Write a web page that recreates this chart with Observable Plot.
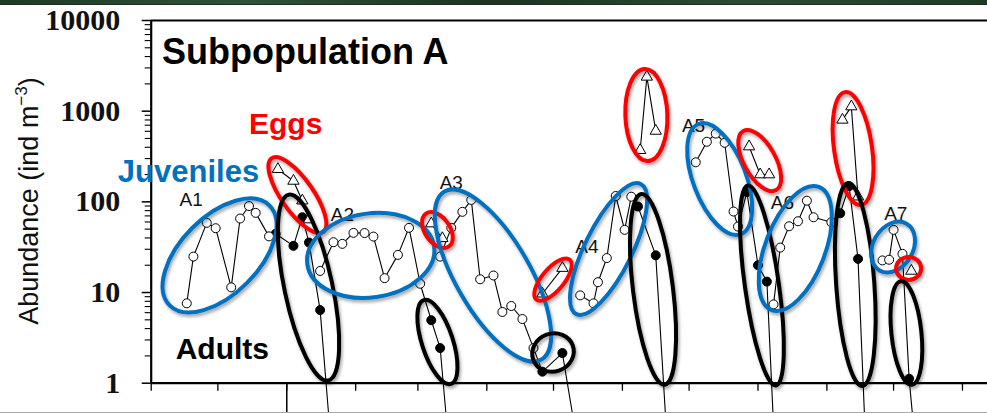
<!DOCTYPE html>
<html>
<head>
<meta charset="utf-8">
<script src="https://cdn.jsdelivr.net/npm/d3@7"></script>
<script src="https://cdn.jsdelivr.net/npm/@observablehq/plot@0.6"></script>
<style>
  html, body { margin: 0; padding: 0; background: #fff; }
  #wrap { position: relative; width: 987px; height: 413px; overflow: hidden; }
  #chart { position: absolute; left: 0; top: 0; width: 987px; height: 412px; overflow: hidden; }
  #band { position: absolute; left: 0; top: 0; width: 987px; height: 4px; z-index: 2;
          background: linear-gradient(90deg, #1e3a25, #2e5236 25%, #1b3321 50%, #2b4c31 75%, #1f3b26);
          border-bottom: 1px solid #2a2a2a; }
  #foot { position: absolute; left: 0; top: 412px; width: 987px; height: 1px; background: #a9a9a9; }
  #chart g[aria-label="y-axis tick label"] { font: bold 30px "Liberation Serif", "Times New Roman", serif; }
</style>
</head>
<body>
<div id="wrap"><div id="chart"></div><div id="band"></div><div id="foot"></div></div>
<script>
// Juveniles (open circles): sampling date, abundance (ind m^-3), cohort
const juvDate = [
  "2010-11-17","2010-11-20","2010-11-26","2010-11-30","2010-12-07","2010-12-11","2010-12-15","2010-12-18","2010-12-24",
  "2011-01-16","2011-01-22","2011-01-26","2011-01-31","2011-02-05","2011-02-09","2011-02-14","2011-02-20","2011-02-25","2011-03-02",
  "2011-03-11","2011-03-16","2011-03-21","2011-03-25","2011-03-29","2011-04-04","2011-04-08","2011-04-12","2011-04-17","2011-04-22",
  "2011-05-13","2011-05-19","2011-05-21","2011-05-25","2011-05-29","2011-06-02","2011-06-05",
  "2011-07-04","2011-07-09","2011-07-13","2011-07-17","2011-07-21","2011-07-23",
  "2011-08-08","2011-08-11","2011-08-15","2011-08-19","2011-08-23","2011-08-26","2011-09-03",
  "2011-09-26","2011-09-29","2011-10-01","2011-10-05"
];
const juvValue = [
  7.6, 24.9, 58.7, 51.2, 11.4, 65.5, 89.9, 75.6, 41.6,
  17.3, 35.9, 34.4, 45.5, 45.3, 41.4, 14.4, 26.0, 51.7, 12.5,
  24.9, 51.7, 77.6, 105, 14.0, 15.4, 6.1, 7.1, 5.1, 2.44,
  9.3, 7.6, 13.0, 24.0, 116, 49.1, 114,
  273, 460, 566, 448, 78.2, 53.4,
  7.4, 31.3, 53.8, 61.1, 103, 67.6, 59.6,
  22.6, 23.0, 49.1, 26.7
];
const juvCohort = [
  "A1","A1","A1","A1","A1","A1","A1","A1","A1",
  "A2","A2","A2","A2","A2","A2","A2","A2","A2","A2",
  "A3","A3","A3","A3","A3","A3","A3","A3","A3","A3",
  "A4","A4","A4","A4","A4","A4","A4",
  "A5","A5","A5","A5","A5","A5",
  "A6","A6","A6","A6","A6","A6","A6",
  "A7","A7","A7","A7"
];

// Adults (filled circles); 0.1 marks a sample below detection, plotted off the log axis
const BELOW = 0.1;
const adultDate = [
  "2010-12-27","2011-01-04","2011-01-08","2011-01-11","2011-01-16","2011-01-22",
  "2011-03-07","2011-03-11","2011-03-16",
  "2011-04-26","2011-05-05","2011-05-14",
  "2011-06-08","2011-06-16","2011-06-22",
  "2011-07-27","2011-08-01","2011-08-05","2011-08-09",
  "2011-09-07","2011-09-11","2011-09-15","2011-09-19",
  "2011-10-08","2011-10-12"
];
const adultValue = [
  44.4, 32.7, 67.6, 35.6, 6.4, BELOW,
  4.95, 2.44, BELOW,
  1.34, 2.15, BELOW,
  88.8, 25.7, BELOW,
  128, 20.0, 13.2, BELOW,
  74.9, 149, 23.5, BELOW,
  1.12, BELOW
];
const adultCohort = [
  "A1","A1","A1","A1","A1","A1",
  "A2","A2","A2",
  "A3","A3","A3",
  "A4","A4","A4",
  "A5","A5","A5","A5",
  "A6","A6","A6","A6",
  "A7","A7"
];

// Eggs (open triangles)
const eggDate = [
  "2010-12-28","2011-01-04","2011-01-08","2011-01-11",
  "2011-03-07","2011-03-12",
  "2011-04-26","2011-05-05",
  "2011-06-09","2011-06-12","2011-06-16",
  "2011-07-28","2011-08-02","2011-08-06",
  "2011-09-08","2011-09-12","2011-09-15",
  "2011-10-09"
];
const eggValue = [229, 170, 103, 63.8, 57.6, 39.6, 9.7, 18.6, 371, 2390, 605, 407, 200, 200, 802, 1124, 114, 17.3];
const eggCohort = ["A2","A2","A2","A2","A3","A3","A4","A4","A5","A5","A5","A6","A6","A6","A7","A7","A7","A8"];

// Cohort names written next to each juvenile group
const cohortText = ["A1","A2","A3","A4","A5","A6","A7"];
const cohortDate = ["2010-11-19","2011-01-26","2011-03-16","2011-05-16","2011-07-03","2011-08-12","2011-10-02"];
const cohortValue = [106, 71.5, 161, 32.2, 685, 97, 74.3];

// Stage names
const stageText = ["Eggs", "Juveniles", "Adults"];
const stageDate = ["2010-12-15", "2010-10-17", "2010-11-12"];
const stageValue = [717, 211, 2.37];
const stageColor = ["#ff0000", "#0070c0", "#000000"];
const stageSize = [30, 31, 30];

// Hand-drawn rings around each cohort's stage: stage, centre date, centre abundance
const ringStage = ["juv","egg","adult","juv","egg","juv","adult","egg","adult","juv","egg","adult","juv","egg","adult","juv","egg","adult","juv","egg","adult"];
const ringDate = [
  "2010-12-02","2011-01-06","2011-01-11","2011-02-08","2011-03-10","2011-04-04","2011-03-10",
  "2011-05-01","2011-05-01","2011-05-26","2011-06-12","2011-06-15","2011-07-15","2011-08-02",
  "2011-08-03","2011-08-18","2011-09-13","2011-09-14","2011-10-01","2011-10-08","2011-10-07"
];
const ringValue = [25.3, 117, 11.2, 25.3, 48.3, 15.2, 2.81, 13.7, 2.15, 29.8, 894, 10.7, 176, 282, 11.8, 30.2, 382, 12.1, 31.3, 18.2, 3.53];
// ring shape: half-axes (px) and tilt (deg)
const ringShape = [
  [70.6, 38.8, -45], [45, 16, 55], [95, 24, 78], [64, 42, -8], [20, 12.5, 55], [97, 37, 60], [44, 15.5, 72],
  [26, 11, -50], [21, 19, -20], [72.6, 23.6, -63.7], [46, 21, 88], [96, 20, 83], [59, 26.4, 69], [33.8, 15.8, 61],
  [101, 17, 82], [65.9, 29.9, -69], [57, 19, 82], [101.7, 19.1, 86], [27, 20, -60], [12.5, 11.5, 0], [52, 15, 84]
];
const ringColor = {juv: "#0070c0", egg: "#ff0000", adult: "#000000"};

const parse = d3.utcParse("%Y-%m-%d");
const juveniles = juvDate.map((d, i) => ({date: parse(d), value: juvValue[i], cohort: juvCohort[i]}));
const adults = adultDate.map((d, i) => ({date: parse(d), value: adultValue[i], cohort: adultCohort[i]}));
const eggs = eggDate.map((d, i) => ({date: parse(d), value: eggValue[i], cohort: eggCohort[i]}));
const cohortLabels = cohortText.map((t, i) => ({text: t, date: parse(cohortDate[i]), value: cohortValue[i]}));
const stageLabels = stageText.map((t, i) => ({text: t, date: parse(stageDate[i]), value: stageValue[i], color: stageColor[i], size: stageSize[i]}));
const rings = ringStage.map((s, i) => ({stage: s, date: parse(ringDate[i]), value: ringValue[i], shape: ringShape[i]}));

// each cohort's track runs through its juveniles and on into its adults
const tracks = juveniles.concat(adults);

const xStart = parse("2010-11-01");
const xEnd = new Date("2011-11-12T06:15Z");
const monthTicks = d3.utcMonth.range(xStart, parse("2011-11-02"));
const yearTick = [parse("2011-01-01")];
const majorY = [1, 10, 100, 1000, 10000];
const minorY = [1, 10, 100, 1000].flatMap(k => [2, 3, 4, 5, 6, 7, 8, 9].map(m => m * k));

// rings and the y-axis title, drawn with the plot's own scales
function annotations(index, scales, values, dimensions) {
  const g = d3.create("svg:g");
  const defs = g.append("defs");
  defs.append("filter").attr("id", "ringShade")
      .attr("x", "-10%").attr("y", "-10%").attr("width", "120%").attr("height", "120%")
    .append("feDropShadow")
      .attr("dx", 1.5).attr("dy", 2.5).attr("stdDeviation", 1.6)
      .attr("flood-color", "#000").attr("flood-opacity", 0.35);

  const title = g.append("text")
      .attr("transform", `translate(37.7,201) rotate(-90)`)
      .attr("text-anchor", "middle")
      .attr("font-family", "Liberation Sans, Arial, sans-serif")
      .attr("font-size", 27)
      .attr("fill", "#111");
  title.append("tspan").text("Abundance (ind m");
  title.append("tspan").attr("font-size", 17).attr("dy", -11).text("\u22123");
  title.append("tspan").attr("dy", 11).text(")");

  const ringLayer = g.append("g").attr("filter", "url(#ringShade)");
  for (const r of rings) {
    const [a, b, angle] = r.shape;
    ringLayer.append("ellipse")
      .attr("rx", a).attr("ry", b)
      .attr("transform", `translate(${scales.x(r.date)},${scales.y(r.value)}) rotate(${angle})`)
      .attr("fill", "none")
      .attr("stroke", ringColor[r.stage])
      .attr("stroke-width", 4);
  }
  return g.node();
}

const chart = Plot.plot({
  width: 987,
  height: 412,
  marginLeft: 150.7,
  marginRight: 0,
  marginTop: 20,
  marginBottom: 29.3,
  style: {background: "white", overflow: "hidden", fontFamily: "Liberation Sans, Arial, sans-serif"},
  x: {type: "utc", domain: [xStart, xEnd]},
  y: {type: "log", domain: [1, 10000]},
  marks: [
    Plot.axisX({ticks: monthTicks, tickSize: 8, tickFormat: () => "", label: null, strokeWidth: 1.3}),
    Plot.axisX({ticks: yearTick, tickSize: 30, tickFormat: () => "", label: null, strokeWidth: 1.5}),
    Plot.axisY({ticks: minorY, tickSize: 6, tickFormat: () => "", label: null, strokeWidth: 1.1}),
    Plot.axisY({ticks: majorY, tickSize: 9, tickPadding: 22, tickFormat: d => String(d), label: null,
      fontSize: 30, fontWeight: "bold", fontFamily: "Liberation Serif", fill: "#111", strokeWidth: 1.5}),
    Plot.ruleY([1], {strokeWidth: 2.2}),
    Plot.ruleY([10000], {strokeWidth: 2.2}),
    Plot.ruleX([xStart], {strokeWidth: 2.2}),
    Plot.line(tracks, {x: "date", y: "value", z: "cohort", stroke: "black", strokeWidth: 1.1}),
    Plot.line(eggs, {x: "date", y: "value", z: "cohort", stroke: "black", strokeWidth: 1.1}),
    Plot.dot(adults, {filter: d => d.value > BELOW, x: "date", y: "value", r: 4.5, fill: "black", stroke: "black", strokeWidth: 1}),
    Plot.dot(juveniles, {x: "date", y: "value", r: 4.5, fill: "white", stroke: "black", strokeWidth: 1}),
    Plot.dot(eggs, {x: "date", y: "value", symbol: "triangle", r: 4.2, fill: "white", stroke: "black", strokeWidth: 1}),
    Plot.text(cohortLabels, {x: "date", y: "value", text: "text", fontSize: 19, fill: "#111", textAnchor: "middle"}),
    Plot.text(stageLabels, {x: "date", y: "value", text: "text", fill: "color", fontSize: "size", fontWeight: "bold", textAnchor: "start"}),
    Plot.text(["Subpopulation A"], {frameAnchor: "top-left", dx: 10.8, dy: 18.2, lineAnchor: "top", textAnchor: "start",
      fontSize: 36, fontWeight: "bold", fill: "#000"}),
    annotations
  ]
});
document.getElementById("chart").append(chart);
</script>
</body>
</html>
